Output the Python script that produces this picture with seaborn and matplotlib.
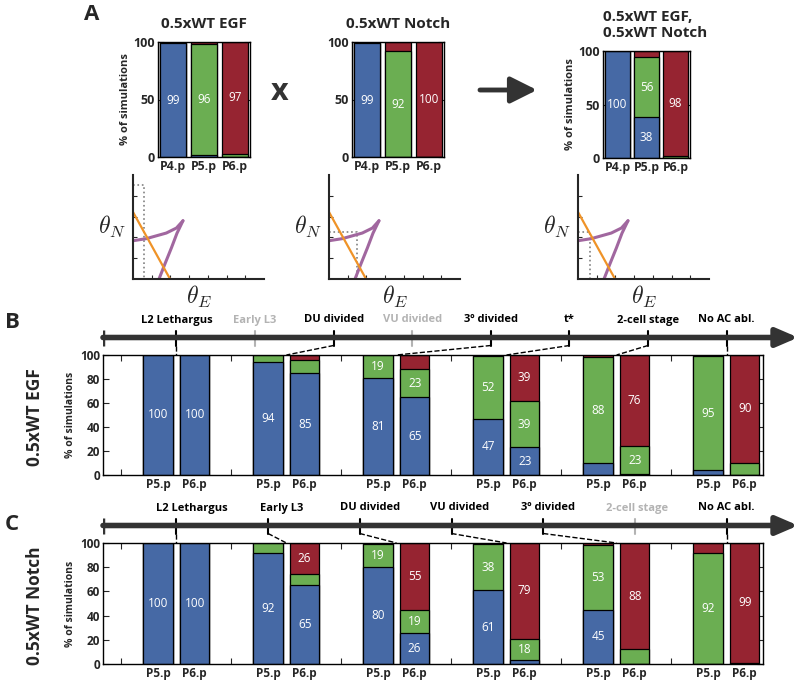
import numpy as np
import pandas as pd
import matplotlib.pyplot as plt
import seaborn as sns

OUTPUT_FILE = "out.png"
W, H = 800, 686

BLUE = "#4669a5"
GREEN = "#6bae52"
RED = "#962431"
ORANGE = "#ef9328"
PURPLE = "#a1679f"
DARK = "#333333"

# ---- panel A: single perturbations and their combination
a_titles = ["0.5xWT EGF", "0.5xWT Notch", "0.5xWT EGF,\n0.5xWT Notch"]
a_cells = ["P4.p", "P5.p", "P6.p"]
a_blue = [[99, 2, 0], [99, 0, 0], [100, 38, 0]]
a_green = [[0, 96, 3], [0, 92, 0], [0, 56, 2]]
a_red = [[1, 2, 97], [1, 8, 100], [0, 6, 98]]

# nullclines in the (theta_E, theta_N) plane, same in all three sketches
egf_null_E = [0, 1.98]
egf_null_N = [3.22, 0]
notch_upper_E = [0, 0.71, 1.78, 2.32, 2.67]
notch_upper_N = [1.84, 1.94, 2.21, 2.45, 2.8]
notch_lower_E = [2.67, 2.35, 2.05, 1.69, 1.39]
notch_lower_N = [2.8, 2.2, 1.49, 0.69, 0]
# operating point of each condition
point_E = [0.59, 1.5, 0.66]
point_N = [4.5, 2.24, 2.24]

# ---- panels B and C: fates when AC is ablated at different times
bc_cells = ["P5.p", "P6.p"] * 6
b_blue = [100, 100, 94, 85, 81, 65, 47, 23, 10, 1, 4, 0]
b_green = [0, 0, 6, 11, 19, 23, 52, 39, 88, 23, 95, 10]
b_red = [0, 0, 0, 4, 0, 12, 1, 39, 2, 76, 1, 90]
c_blue = [100, 100, 92, 65, 80, 26, 61, 3, 45, 0, 0, 0]
c_green = [0, 0, 8, 9, 19, 19, 38, 18, 53, 12, 92, 1]
c_red = [0, 0, 0, 26, 1, 55, 1, 79, 2, 88, 8, 99]

b_events = ["L2 Lethargus", "Early L3", "DU divided", "VU divided",
            "3º divided", "t*", "2-cell stage", "No AC abl."]
b_used = [True, False, True, False, True, True, True, True]
c_events = ["L2 Lethargus", "Early L3", "DU divided", "VU divided",
            "3º divided", "2-cell stage", "No AC abl."]
c_used = [True, True, True, True, True, False, True]


def px_axes(fig, x0, y0, x1, y1):
    return fig.add_axes([x0 / W, 1 - y1 / H, (x1 - x0) / W, (y1 - y0) / H])


def box_style(ax):
    for s in ax.spines.values():
        s.set_visible(True)
        s.set_linewidth(1)
        s.set_color("black")
    ax.tick_params(direction="in", top=True, right=True, bottom=True, left=True,
                   length=4, width=0.8, pad=2)


def stacked_bars(ax, pos, blue, green, red, width):
    df = pd.DataFrame({"pos": pos, "blue": blue, "green": green, "red": red})
    df["mid"] = df["blue"] + df["green"]
    df["top"] = df["mid"] + df["red"]
    # draw cumulative heights from the top down so the layers stack
    for col, color in [("top", RED), ("mid", GREEN), ("blue", BLUE)]:
        sns.barplot(data=df, x="pos", y=col, native_scale=True, width=width,
                    color=color, saturation=1, edgecolor="black", linewidth=0.9,
                    errorbar=None, ax=ax)
    for _, r in df.iterrows():
        for bottom, h in [(0, r["blue"]), (r["blue"], r["green"]), (r["mid"], r["red"])]:
            if h >= 15:
                ax.text(r["pos"], bottom + h / 2, f"{int(h)}", color="white",
                        ha="center", va="center", fontsize=8.5)
    ax.set_xlabel("")
    ax.set_ylabel("")


def timeline(ax, events, used, label_start):
    y = 17.5
    ev_pos = np.linspace(2.5, 17.5, len(events))
    lab_pos = np.linspace(label_start, 17.5, len(events))
    ax.annotate("", xy=(19.45, y), xytext=(0.5, y),
                arrowprops=dict(arrowstyle="-|>,head_length=0.65,head_width=0.28",
                                mutation_scale=20, lw=4, color=DARK,
                                shrinkA=0, shrinkB=0))
    ax.plot([0.5, 0.5], [y - 8, y + 8], color=DARK, lw=2.5, solid_capstyle="butt")
    g = 0
    for x, lx, name, on in zip(ev_pos, lab_pos, events, used):
        c = "black" if on else "#b3b3b3"
        ax.plot([x, x], [y - 8, y + 7], color=c, lw=1.5)
        ax.text(lx, 35, name, ha="center", va="center", fontsize=8,
                fontweight="bold", color=c)
        if on:
            ax.plot([x, 3 * g + 2.5], [y - 8, 0], ls="--", color="black", lw=1)
            g += 1
    ax.set_xlim(0.5, 19.5)
    ax.set_ylim(0, 48)
    ax.axis("off")


def main():
    sns.set_style("ticks")
    plt.rcParams["font.family"] = ["Open Sans", "DejaVu Sans"]
    plt.rcParams["mathtext.fontset"] = "cm"

    fig = plt.figure(figsize=(W / 100, H / 100), dpi=100)

    # overlay in pixel units for letters, arrows and row labels
    ov = fig.add_axes([0, 0, 1, 1])
    ov.set_xlim(0, W)
    ov.set_ylim(H, 0)
    ov.axis("off")
    ov.text(92, 15, "A", fontsize=16, fontweight="bold", ha="center", va="center")
    ov.text(12, 323, "B", fontsize=16, fontweight="bold", ha="center", va="center")
    ov.text(12, 524, "C", fontsize=16, fontweight="bold", ha="center", va="center")
    ov.text(280, 92, "x", fontsize=22, fontweight="bold", ha="center", va="center", color=DARK)
    ov.annotate("", xy=(537, 90), xytext=(480, 90),
                arrowprops=dict(arrowstyle="-|>,head_length=0.8,head_width=0.4",
                                mutation_scale=20, lw=3.5, color=DARK,
                                shrinkA=0, shrinkB=0))
    ov.text(35, 417, "0.5xWT EGF", rotation=90, fontsize=12.5, fontweight="bold",
            ha="center", va="center")
    ov.text(35, 606, "0.5xWT Notch", rotation=90, fontsize=12.5, fontweight="bold",
            ha="center", va="center")

    # panel A bar charts
    a_boxes = [(158, 42, 250, 157), (352, 42, 444, 157), (603, 51, 690, 158)]
    for i, box in enumerate(a_boxes):
        ax = px_axes(fig, *box)
        stacked_bars(ax, [1, 2, 3], a_blue[i], a_green[i], a_red[i], 0.85)
        ax.set_xlim(0.5, 3.5)
        ax.set_ylim(0, 100)
        ax.set_xticks([1, 2, 3])
        ax.set_xticklabels(a_cells, fontsize=8.8, fontweight="bold")
        ax.set_yticks([0, 50, 100])
        ax.set_yticklabels(["0", "50", "100"], fontsize=9, fontweight="bold")
        box_style(ax)
        ax.set_title(a_titles[i], fontsize=11, fontweight="bold", pad=10,
                     loc="left" if i == 2 else "center")
        if i != 1:
            ax.set_ylabel("% of simulations", fontsize=8, fontweight="bold", labelpad=2)

    # panel A phase-plane sketches
    p_boxes = [(133, 175, 264, 279), (329, 175, 460, 279), (578, 175, 709, 279)]
    for i, box in enumerate(p_boxes):
        ax = px_axes(fig, *box)
        ax.plot([0, point_E[i], point_E[i]], [point_N[i], point_N[i], 0],
                ls=":", color="#808080", lw=1.2)
        ax.plot(notch_upper_E, notch_upper_N, color=PURPLE, lw=2.2)
        ax.plot(notch_lower_E, notch_lower_N, color=PURPLE, lw=2.2)
        ax.plot(egf_null_E, egf_null_N, color=ORANGE, lw=1.6)
        ax.set_xlim(0, 7)
        ax.set_ylim(0, 5)
        ax.set_xticks(range(1, 7))
        ax.set_yticks(range(1, 5))
        ax.set_xticklabels([])
        ax.set_yticklabels([])
        ax.tick_params(direction="in", length=3, width=0.8)
        sns.despine(ax=ax)
        for s in ["left", "bottom"]:
            ax.spines[s].set_linewidth(1.5)
        ax.set_ylabel(r"$\theta_N$", fontsize=17, rotation=0, ha="right", va="center",
                      labelpad=2)
        ax.set_xlabel(r"$\theta_E$", fontsize=17, labelpad=0)

    # panels B and C
    pos = [3 * g + k for g in range(6) for k in (2, 3)]
    tick_labels = {p: c for p, c in zip(pos, bc_cells)}
    rows = [
        (355, 475, b_blue, b_green, b_red, b_events, b_used, 2.5),
        (543, 664, c_blue, c_green, c_red, c_events, c_used, 2.93),
    ]
    for top, bottom, bl, gr, rd, events, used, lstart in rows:
        ax = px_axes(fig, 103, top, 763, bottom)
        stacked_bars(ax, pos, bl, gr, rd, 0.8)
        ax.set_xlim(0.5, 18.5)
        ax.set_ylim(0, 100)
        ax.set_xticks(range(1, 19))
        ax.set_xticklabels([tick_labels.get(p, "") for p in range(1, 19)],
                           fontsize=8.5, fontweight="bold")
        ax.set_yticks(range(0, 101, 20))
        ax.set_yticklabels([str(v) for v in range(0, 101, 20)], fontsize=8.5,
                           fontweight="bold")
        box_style(ax)
        ax.set_ylabel("% of simulations", fontsize=7.5, fontweight="bold", labelpad=3)

        tl = px_axes(fig, 103, top - 48, 800, top)
        timeline(tl, events, used, lstart)

    fig.savefig(OUTPUT_FILE, dpi=100)


if __name__ == "__main__":
    main()
